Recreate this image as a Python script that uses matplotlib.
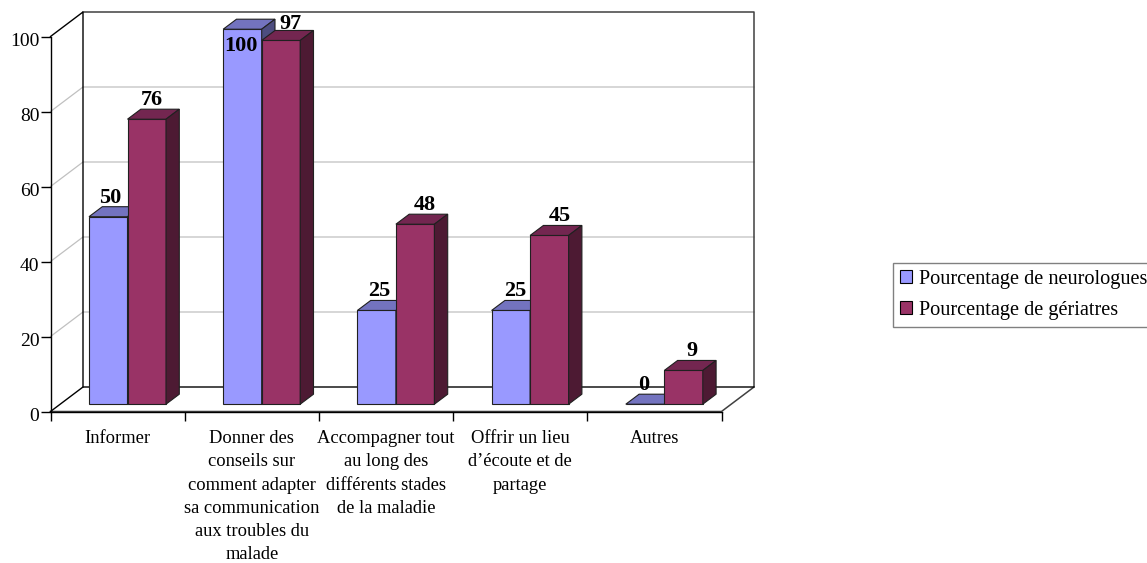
import matplotlib
matplotlib.use('Agg')
import matplotlib.pyplot as plt
from matplotlib.patches import Patch, Polygon
from matplotlib.transforms import ScaledTranslation

plt.rcParams['font.family'] = ['Liberation Serif', 'DejaVu Serif']

# Données
categories = [
    'Informer',
    'Donner des\nconseils sur\ncomment adapter\nsa communication\naux troubles du\nmalade',
    'Accompagner tout\nau long des\ndifférents stades\nde la maladie',
    "Offrir un lieu\nd’écoute et de\npartage",
    'Autres',
]
neurologues = [50, 100, 25, 25, 0]
geriatres = [76, 97, 48, 45, 9]
y_ticks = [0, 20, 40, 60, 80, 100]
serie_neuro = 'Pourcentage de neurologues'
serie_ger = 'Pourcentage de gériatres'

# Décalage des étiquettes en pixels
decal_neuro = [(2, 19), (-2, -17), (3, 19), (4, 19), (-1, 19)]
decal_ger = [(5, 19), (9, 16), (10, 19), (10, 19), (8, 19)]

W, H = 1147, 563
px_x = 134.2  # pixels par catégorie
px_y = 3.75   # pixels par unité

# Profondeur du mur et des barres, en unités de données
mur_dx, mur_dy = 32.5 / px_x, 24.5 / px_y
barre_dx, barre_dy = 13.3 / px_x, 10 / px_y
sol = 7.3 / px_y
largeur = 38.5 / px_x
debut = 38.5 / px_x

fig = plt.figure(figsize=(W / 100, H / 100), dpi=100)
ax = fig.add_axes([50.5 / W, (H - 411.5) / H, 671 / W, 375 / H])
ax.set_xlim(0, len(categories))
ax.set_ylim(0, 100)
ax.patch.set_alpha(0)

n = len(categories)

# Mur du fond et grille
for v in y_ticks[1:-1]:
    ax.plot([0, mur_dx, n + mur_dx], [v, v + mur_dy, v + mur_dy], color='#c0c0c0', lw=0.9,
            clip_on=False, zorder=1)
ax.plot([mur_dx, n + mur_dx, n + mur_dx, n, 0], [100 + mur_dy, 100 + mur_dy, mur_dy, 0, 0],
        color='#404040', lw=1.1, clip_on=False, zorder=1)
ax.plot([0, mur_dx, mur_dx], [100, 100 + mur_dy, mur_dy], color='black', lw=1.0, clip_on=False, zorder=1)
ax.plot([0, mur_dx, n + mur_dx], [0, mur_dy, mur_dy], color='black', lw=1.0, clip_on=False, zorder=1)


def barre_3d(x, v, face, dessus, cote, z):
    ax.bar(x, v, largeur, bottom=sol, align='edge', color=face, edgecolor='#202020', lw=0.8,
           clip_on=False, zorder=z)
    haut = v + sol
    d = x + largeur
    ax.add_patch(Polygon([(x, haut), (d, haut), (d + barre_dx, haut + barre_dy), (x + barre_dx, haut + barre_dy)],
                         facecolor=dessus, edgecolor='#202020', lw=0.8, clip_on=False, zorder=z))
    ax.add_patch(Polygon([(d, sol), (d + barre_dx, sol + barre_dy), (d + barre_dx, haut + barre_dy), (d, haut)],
                         facecolor=cote, edgecolor='#202020', lw=0.8, clip_on=False, zorder=z))


for i in range(n):
    x1 = i + debut
    x2 = x1 + largeur
    barre_3d(x1, neurologues[i], '#9999ff', '#7373bf', '#4d4d80', 3 + i)
    barre_3d(x2, geriatres[i], '#993366', '#732650', '#4d1a33', 3.5 + i)

# Étiquettes de valeurs
for i in range(n):
    x1 = i + debut + largeur / 2
    x2 = x1 + largeur
    ax.annotate(str(neurologues[i]), (x1, neurologues[i] + sol), xytext=decal_neuro[i],
                textcoords='offset pixels', ha='center', va='center', fontsize=16, fontweight='bold',
                annotation_clip=False, zorder=20)
    ax.annotate(str(geriatres[i]), (x2, geriatres[i] + sol), xytext=decal_ger[i],
                textcoords='offset pixels', ha='center', va='center', fontsize=16, fontweight='bold',
                annotation_clip=False, zorder=20)

# Axes
for nom in ['top', 'right']:
    ax.spines[nom].set_visible(False)
ax.spines['left'].set_linewidth(1.0)
ax.spines['bottom'].set_linewidth(1.0)
ax.set_yticks(y_ticks)
ax.tick_params(axis='y', length=7, width=1.0, labelsize=14, pad=1)
decalage = ScaledTranslation(0, -2 / 72, fig.dpi_scale_trans)
for lab in ax.get_yticklabels():
    lab.set_transform(lab.get_transform() + decalage)
ax.set_xticks(range(n + 1))
ax.set_xticklabels([])
ax.tick_params(axis='x', which='major', length=6.5, width=1.0)
ax.set_xticks([i + 0.5 for i in range(n)], minor=True)
ax.set_xticklabels(categories, minor=True, fontsize=13.3, linespacing=1.48, ha='center', va='top')
ax.tick_params(axis='x', which='minor', length=0, pad=13.5)

# Légende
handles = [Patch(facecolor='#9999ff', edgecolor='black', lw=0.8, label=serie_neuro),
           Patch(facecolor='#993366', edgecolor='black', lw=0.8, label=serie_ger)]
fig.legend(handles=handles, loc='upper left', bbox_to_anchor=(893 / W, 1 - 262.5 / H), fontsize=14.6,
           frameon=True, fancybox=False, edgecolor='#808080', framealpha=1, handlelength=0.58,
           handleheight=0.6, handletextpad=0.33, labelspacing=0.6, borderpad=0.35, borderaxespad=0)

fig.savefig('out.png', dpi=100)
